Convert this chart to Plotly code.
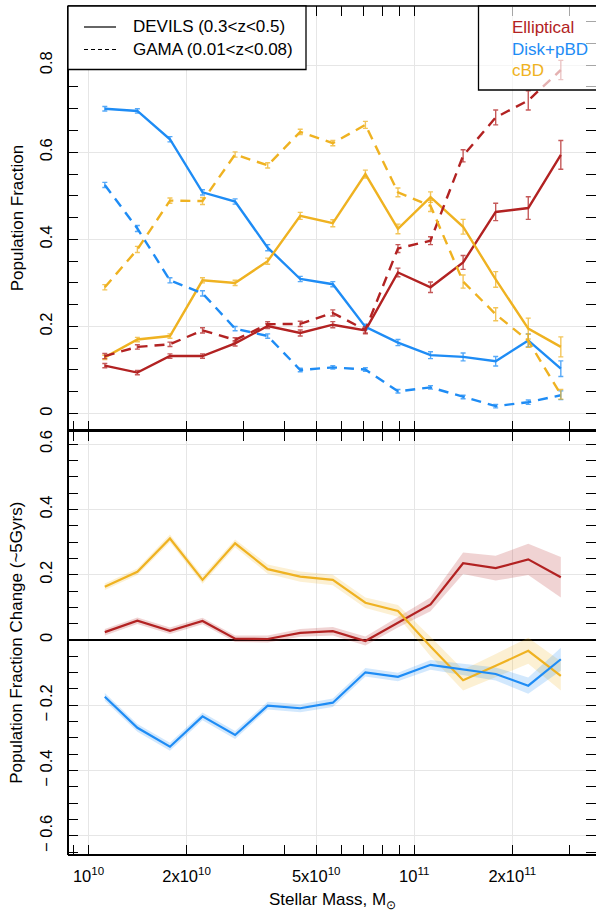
import plotly.graph_objects as go

# Stellar-mass bin centres (log10 M / Msun)
log_mass = [10.05, 10.15, 10.25, 10.35, 10.45, 10.55, 10.65, 10.75,
            10.85, 10.95, 11.05, 11.15, 11.25, 11.35, 11.45]

# Population fractions, DEVILS (0.3<z<0.5)
ell_devils = [0.110, 0.094, 0.132, 0.132, 0.161, 0.201, 0.185, 0.204,
              0.191, 0.324, 0.290, 0.347, 0.463, 0.472, 0.594]
ell_devils_err = [0.005, 0.005, 0.005, 0.005, 0.006, 0.006, 0.007, 0.007,
                  0.008, 0.010, 0.012, 0.016, 0.020, 0.026, 0.033]
disk_devils = [0.700, 0.695, 0.630, 0.508, 0.487, 0.381, 0.309, 0.297,
               0.199, 0.163, 0.134, 0.130, 0.120, 0.168, 0.103]
disk_devils_err = [0.005, 0.005, 0.006, 0.006, 0.006, 0.007, 0.006, 0.006,
                   0.006, 0.007, 0.008, 0.009, 0.011, 0.015, 0.018]
cbd_devils = [0.129, 0.170, 0.178, 0.306, 0.300, 0.350, 0.454, 0.437,
              0.550, 0.424, 0.497, 0.429, 0.308, 0.195, 0.153]
cbd_devils_err = [0.005, 0.005, 0.005, 0.006, 0.006, 0.007, 0.008, 0.008,
                  0.009, 0.011, 0.012, 0.017, 0.018, 0.024, 0.023]

# Population fractions, GAMA (0.01<z<0.08)
ell_gama = [0.132, 0.153, 0.159, 0.191, 0.169, 0.205, 0.206, 0.231,
            0.192, 0.379, 0.397, 0.592, 0.680, 0.719, 0.789]
ell_gama_err = [0.006, 0.005, 0.005, 0.006, 0.005, 0.006, 0.006, 0.007,
                0.007, 0.009, 0.009, 0.014, 0.017, 0.022, 0.022]
disk_gama = [0.525, 0.425, 0.306, 0.276, 0.195, 0.178, 0.100, 0.106,
             0.101, 0.051, 0.060, 0.038, 0.017, 0.026, 0.042]
disk_gama_err = [0.006, 0.007, 0.006, 0.006, 0.005, 0.005, 0.004, 0.004,
                 0.004, 0.004, 0.004, 0.004, 0.004, 0.005, 0.010]
cbd_gama = [0.290, 0.377, 0.489, 0.488, 0.595, 0.570, 0.647, 0.621,
            0.663, 0.508, 0.477, 0.303, 0.228, 0.167, 0.044]
cbd_gama_err = [0.006, 0.007, 0.006, 0.008, 0.006, 0.006, 0.006, 0.006,
                0.008, 0.010, 0.013, 0.015, 0.015, 0.015, 0.011]

# Change in population fraction over ~5 Gyr, with uncertainty
ell_change = [0.024, 0.059, 0.028, 0.058, 0.004, 0.003, 0.022, 0.027,
              -0.003, 0.054, 0.109, 0.235, 0.220, 0.247, 0.192]
ell_change_err = [0.010, 0.010, 0.010, 0.010, 0.010, 0.011, 0.012, 0.013,
                  0.014, 0.016, 0.021, 0.033, 0.038, 0.048, 0.062]
disk_change = [-0.174, -0.269, -0.327, -0.234, -0.291, -0.201, -0.209, -0.192,
               -0.099, -0.113, -0.076, -0.090, -0.104, -0.140, -0.059]
disk_change_err = [0.012, 0.012, 0.012, 0.012, 0.012, 0.012, 0.012, 0.013,
                   0.013, 0.013, 0.015, 0.018, 0.020, 0.025, 0.035]
cbd_change = [0.163, 0.209, 0.311, 0.184, 0.296, 0.217, 0.194, 0.184,
              0.114, 0.089, -0.020, -0.123, -0.079, -0.033, -0.110]
cbd_change_err = [0.010, 0.010, 0.012, 0.012, 0.012, 0.014, 0.016, 0.016,
                  0.016, 0.018, 0.030, 0.032, 0.036, 0.040, 0.045]

class_names = ["Elliptical", "Disk+pBD", "cBD"]
sample_names = ["DEVILS (0.3&lt;z&lt;0.5)", "GAMA (0.01&lt;z&lt;0.08)"]

x_label_vals = [1e10, 2e10, 5e10, 1e11, 2e11]
x_label_text = ["10<sup>10</sup>", "2x10<sup>10</sup>", "5x10<sup>10</sup>",
                "10<sup>11</sup>", "2x10<sup>11</sup>"]
x_minor_vals = [9e9, 3e10, 4e10, 6e10, 7e10, 8e10, 9e10, 3e11]

top_tick_vals = [0, 0.2, 0.4, 0.6, 0.8]
top_tick_text = ["0", "0.2", "0.4", "0.6", "0.8"]
bot_tick_vals = [-0.6, -0.4, -0.2, 0, 0.2, 0.4, 0.6]
bot_tick_text = ["\u2212 0.6", "\u2212 0.4", "\u2212 0.2", "0", "0.2", "0.4", "0.6"]

RED = "#B22222"
BLUE = "#1E8CF5"
YEL = "#EFB221"
FONT = "Liberation Sans, Arial, sans-serif"

W, H = 596, 915
ML, MR, MT, MB = 68, 0, 6, 60


def rgba(hex_color, a):
    h = hex_color.lstrip("#")
    r, g, b = int(h[0:2], 16), int(h[2:4], 16), int(h[4:6], 16)
    return f"rgba({r},{g},{b},{a})"


def px_x(p):
    return (p - ML) / (W - ML - MR)


def px_y(p):
    return (H - MB - p) / (H - MT - MB)


mass = [10 ** v for v in log_mass]

fig = go.Figure()

# upper panel: fractions with error bars
panels = [
    (ell_devils, ell_devils_err, RED, "solid"),
    (disk_devils, disk_devils_err, BLUE, "solid"),
    (cbd_devils, cbd_devils_err, YEL, "solid"),
    (ell_gama, ell_gama_err, RED, "10px,7px"),
    (disk_gama, disk_gama_err, BLUE, "10px,7px"),
    (cbd_gama, cbd_gama_err, YEL, "10px,7px"),
]
for vals, errs, col, dash in panels:
    fig.add_trace(go.Scatter(
        x=mass, y=vals, mode="lines", xaxis="x", yaxis="y",
        line=dict(color=col, width=2.4, dash=dash),
        error_y=dict(type="data", array=errs, visible=True,
                     color=rgba(col, 0.75), thickness=1.4, width=2.5),
        showlegend=False, hoverinfo="skip"))

# lower panel: change with shaded uncertainty
changes = [
    (ell_change, ell_change_err, RED),
    (cbd_change, cbd_change_err, YEL),
    (disk_change, disk_change_err, BLUE),
]
for vals, errs, col in changes:
    upper = [v + e for v, e in zip(vals, errs)]
    lower = [v - e for v, e in zip(vals, errs)]
    fig.add_trace(go.Scatter(
        x=mass + mass[::-1], y=upper + lower[::-1], mode="lines",
        xaxis="x2", yaxis="y2", fill="toself", fillcolor=rgba(col, 0.2),
        line=dict(width=0), showlegend=False, hoverinfo="skip"))
for vals, errs, col in changes:
    fig.add_trace(go.Scatter(
        x=mass, y=vals, mode="lines", xaxis="x2", yaxis="y2",
        line=dict(color=col, width=2.2), showlegend=False, hoverinfo="skip"))

tick_font = dict(family=FONT, size=16.5, color="black")
grid_col = "#E6E6E6"
xrange = [9.937, 11.558]

common_x = dict(type="log", range=xrange, ticks="inside", ticklen=10,
                tickwidth=1.2, tickcolor="black", mirror="ticks",
                showline=False, zeroline=False, showgrid=True,
                gridcolor=grid_col, gridwidth=1,
                tickmode="array", tickvals=x_label_vals,
                ticktext=x_label_text,
                minor=dict(tickmode="array", tickvals=x_minor_vals,
                           ticks="inside", ticklen=10, tickwidth=1.2,
                           tickcolor="black", showgrid=False))

common_y = dict(ticks="inside", ticklen=10, tickwidth=1.2, tickcolor="black",
                mirror="ticks", showline=False, showgrid=True,
                gridcolor=grid_col, gridwidth=1, tickangle=-90,
                tickfont=tick_font, ticklabelstandoff=12,
                tickmode="array",
                minor=dict(dtick=0.05, tick0=0, ticks="inside", ticklen=10,
                           tickwidth=1.2, tickcolor="black", showgrid=False))

split = 0.5

fig.update_layout(
    width=W, height=H,
    margin=dict(l=ML, r=MR, t=MT, b=MB),
    paper_bgcolor="white", plot_bgcolor="white",
    font=dict(family=FONT, size=17, color="black"),
    xaxis=dict(common_x, anchor="y", domain=[0, 1], showticklabels=False),
    yaxis=dict(common_y, anchor="x", domain=[split, 1],
               range=[-0.039, 0.936], zeroline=False,
               tickvals=top_tick_vals, ticktext=top_tick_text),
    xaxis2=dict(common_x, anchor="y2", domain=[0, 1], matches="x",
                tickfont=tick_font, ticklabelstandoff=9),
    yaxis2=dict(common_y, anchor="x2", domain=[0, split],
                range=[-0.6585, 0.6416], zeroline=True,
                zerolinecolor="black", zerolinewidth=2,
                tickvals=bot_tick_vals, ticktext=bot_tick_text),
)

shapes = []
# frame: left axis, top edge, panel divider, bottom axis
shapes.append(dict(type="line", xref="paper", yref="paper", x0=0, x1=0,
                   y0=0, y1=1, line=dict(color="black", width=2)))
shapes.append(dict(type="line", xref="paper", yref="paper", x0=0, x1=1,
                   y0=1, y1=1, line=dict(color="black", width=1.5)))
shapes.append(dict(type="line", xref="paper", yref="paper", x0=0, x1=1,
                   y0=split, y1=split, line=dict(color="black", width=3)))
shapes.append(dict(type="line", xref="paper", yref="paper", x0=0, x1=1,
                   y0=0, y1=0, line=dict(color="black", width=2)))

# sample key (line style)
shapes.append(dict(type="rect", xref="paper", yref="paper", layer="above",
                   x0=px_x(68), x1=px_x(306), y0=px_y(69.5), y1=px_y(6),
                   fillcolor="white", line=dict(color="black", width=1.3)))
shapes.append(dict(type="line", xref="paper", yref="paper", layer="above",
                   x0=px_x(84), x1=px_x(116), y0=px_y(27), y1=px_y(27),
                   line=dict(color="black", width=1.2)))
shapes.append(dict(type="line", xref="paper", yref="paper", layer="above",
                   x0=px_x(84), x1=px_x(116), y0=px_y(49.5), y1=px_y(49.5),
                   line=dict(color="black", width=1.2, dash="4px,3px")))
# class key (text colour)
shapes.append(dict(type="rect", xref="paper", yref="paper", layer="above",
                   x0=px_x(478.5), x1=px_x(620), y0=px_y(90), y1=px_y(6),
                   fillcolor="rgba(255,255,255,0.65)",
                   line=dict(color="black", width=1.3)))

annotations = []
for name, yy in zip(sample_names, [27, 49.5]):
    annotations.append(dict(xref="paper", yref="paper", x=px_x(131),
                            y=px_y(yy), text=name, showarrow=False,
                            xanchor="left", yanchor="middle",
                            font=dict(family=FONT, size=17, color="black")))
for name, col, yy in zip(class_names, [RED, BLUE, YEL], [28, 49.5, 70.5]):
    annotations.append(dict(xref="paper", yref="paper", x=px_x(510),
                            y=px_y(yy), text=name, showarrow=False,
                            xanchor="left", yanchor="middle",
                            font=dict(family=FONT, size=17, color=col)))

# axis titles
annotations.append(dict(xref="paper", yref="paper", x=0, xshift=-51,
                        y=(1 + split) / 2, text="Population Fraction",
                        textangle=-90, showarrow=False, xanchor="center",
                        yanchor="middle", font=dict(family=FONT, size=17)))
annotations.append(dict(xref="paper", yref="paper", x=0, xshift=-51,
                        y=split / 2, text="Population Fraction Change (~5Gyrs)",
                        textangle=-90, showarrow=False, xanchor="center",
                        yanchor="middle", font=dict(family=FONT, size=17)))
annotations.append(dict(xref="paper", yref="paper", x=0.5, y=0, yshift=-46,
                        text="Stellar Mass, M<sub>\u2299</sub>",
                        showarrow=False, xanchor="center", yanchor="middle",
                        font=dict(family=FONT, size=17)))

fig.update_layout(shapes=shapes, annotations=annotations)

fig.write_html("out.html")
